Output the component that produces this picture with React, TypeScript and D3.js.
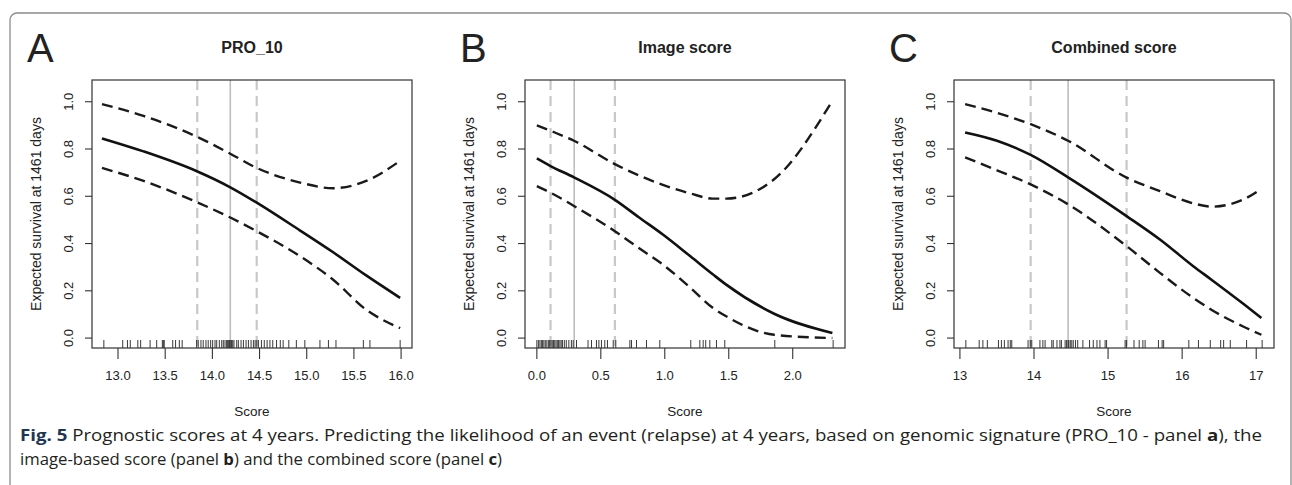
import React from 'react';
import * as d3 from 'd3';

// Panel A: PRO_10
const proGrid = [12.83, 13.27, 13.83, 14.19, 14.47, 14.93, 15.28, 15.63, 15.99];
const proFit = [0.845, 0.79, 0.707, 0.638, 0.573, 0.455, 0.363, 0.265, 0.17];
const proUpper = [0.99, 0.94, 0.853, 0.78, 0.72, 0.658, 0.634, 0.665, 0.75];
const proLower = [0.72, 0.665, 0.576, 0.51, 0.452, 0.346, 0.247, 0.12, 0.042];
const proCuts = [13.84, 14.19, 14.47];
const proRug = [12.85, 13.05, 13.10, 13.13, 13.21, 13.24, 13.34, 13.41, 13.47, 13.48, 13.49, 13.58, 13.61, 13.65, 13.68,
  13.833, 13.85, 13.879, 13.903, 13.932, 13.956, 13.982, 14.003, 14.028, 14.046, 14.074, 14.099, 14.116, 14.134,
  14.152, 14.158, 14.169, 14.18, 14.187, 14.198, 14.205, 14.216, 14.229, 14.258, 14.275, 14.304, 14.329, 14.357,
  14.382, 14.41, 14.435, 14.453, 14.471, 14.488, 14.52, 14.55, 14.58, 14.61, 14.64, 14.68, 14.72, 14.75, 14.81,
  14.89, 14.98, 15.14, 15.23, 15.31, 15.60, 15.67, 15.99];
const proTicks = [13.0, 13.5, 14.0, 14.5, 15.0, 15.5, 16.0];

// Panel B: Image score
const imgGrid = [0, 0.107, 0.29, 0.61, 0.8, 0.985, 1.2, 1.375, 1.48, 1.855, 2.31];
const imgFit = [0.76, 0.728, 0.68, 0.585, 0.51, 0.438, 0.346, 0.27, 0.226, 0.103, 0.021];
const imgUpper = [0.9, 0.877, 0.835, 0.736, 0.688, 0.648, 0.612, 0.59, 0.59, 0.672, 1.004];
const imgLower = [0.643, 0.615, 0.559, 0.452, 0.38, 0.311, 0.213, 0.128, 0.092, 0.014, 0.0];
const imgCuts = [0.107, 0.292, 0.61];
const imgRug = [0.0, 0.012, 0.024, 0.035, 0.045, 0.055, 0.066, 0.078, 0.09, 0.1, 0.11, 0.12, 0.13, 0.14, 0.15,
  0.16, 0.17, 0.18, 0.19, 0.2, 0.215, 0.23, 0.25, 0.27, 0.284, 0.31, 0.40, 0.427, 0.466, 0.485, 0.505, 0.531,
  0.552, 0.597, 0.617, 0.727, 0.74, 0.779, 0.857, 0.961, 1.203, 1.274, 1.30, 1.32, 1.352, 1.404, 1.469, 1.86, 2.316];
const imgTicks = [0.0, 0.5, 1.0, 1.5, 2.0];

// Panel C: Combined score
const comGrid = [13.07, 13.5, 13.955, 14.46, 15.25, 15.7, 16.15, 16.4, 16.83, 17.07];
const comFit = [0.87, 0.835, 0.775, 0.68, 0.516, 0.417, 0.304, 0.246, 0.144, 0.085];
const comUpper = [0.99, 0.953, 0.905, 0.835, 0.679, 0.622, 0.57, 0.556, 0.587, 0.632];
const comLower = [0.765, 0.71, 0.65, 0.566, 0.389, 0.276, 0.17, 0.119, 0.048, 0.014];
const comCuts = [13.955, 14.46, 15.25];
const comRug = [13.08, 13.26, 13.31, 13.37, 13.52, 13.56, 13.60, 13.65, 13.68, 13.70, 13.92, 13.95, 13.97, 14.08,
  14.12, 14.15, 14.24, 14.26, 14.31, 14.35, 14.37, 14.42, 14.44, 14.46, 14.47, 14.49, 14.51, 14.53, 14.56, 14.59,
  14.66, 14.75, 14.80, 14.85, 14.89, 14.96, 14.98, 15.23, 15.25, 15.35, 15.42, 15.47, 15.50, 15.68, 15.73, 15.75,
  16.09, 16.22, 16.38, 16.52, 16.56, 16.65, 16.87, 17.08];
const comTicks = [13, 14, 15, 16, 17];

const yTicks = [0.0, 0.2, 0.4, 0.6, 0.8, 1.0];
const yLim = [0, 1.05];

const panels = [
  { letter: 'A', title: 'PRO_10', left: 92, grid: proGrid, fit: proFit, upper: proUpper, lower: proLower, cuts: proCuts, rug: proRug, ticks: proTicks, fmt: '.1f' },
  { letter: 'B', title: 'Image score', left: 525, grid: imgGrid, fit: imgFit, upper: imgUpper, lower: imgLower, cuts: imgCuts, rug: imgRug, ticks: imgTicks, fmt: '.1f' },
  { letter: 'C', title: 'Combined score', left: 954, grid: comGrid, fit: comFit, upper: comUpper, lower: comLower, cuts: comCuts, rug: comRug, ticks: comTicks, fmt: 'd' },
];

const W = 1292;
const H = 485;
const boxW = 320;
const top = 80;
const bottom = 348;
const font = '"Liberation Sans", Arial, Helvetica, sans-serif';
const ink = '#222';

function Panel({ p }) {
  const [lo, hi] = d3.extent(p.rug);
  const pad = (hi - lo) * 0.04;
  const x = d3.scaleLinear().domain([lo - pad, hi + pad]).range([p.left, p.left + boxW]);
  const ypad = (yLim[1] - yLim[0]) * 0.04;
  const y = d3.scaleLinear().domain([yLim[0] - ypad, yLim[1] + ypad]).range([bottom, top]);
  const line = d3.line().x(d => x(d[0])).y(d => y(d[1])).curve(d3.curveMonotoneX);
  const pts = arr => p.grid.map((g, i) => [g, arr[i]]);
  const fmt = d3.format(p.fmt);
  const cx = p.left + boxW / 2;

  return (
    <g>
      <text x={p.left - 65} y={62} fontFamily={font} fontSize={40} fill={ink}>{p.letter}</text>
      <text x={cx} y={53} fontFamily={font} fontSize={16} fontWeight="bold" fill={ink} textAnchor="middle">{p.title}</text>

      {p.cuts.map((c, i) => (
        <line key={'c' + i} x1={x(c)} x2={x(c)} y1={top} y2={bottom}
          stroke={i === 1 ? '#bdbdbd' : '#c8c8c8'} strokeWidth={i === 1 ? 1.6 : 2.2}
          strokeDasharray={i === 1 ? null : '10 6'} />
      ))}

      <path d={line(pts(p.upper))} fill="none" stroke="#1a1a1a" strokeWidth={2.4} strokeDasharray="11 6" />
      <path d={line(pts(p.lower))} fill="none" stroke="#1a1a1a" strokeWidth={2.4} strokeDasharray="11 6" />
      <path d={line(pts(p.fit))} fill="none" stroke="#111" strokeWidth={2.6} />

      {p.rug.map((r, i) => (
        <line key={'r' + i} x1={x(r)} x2={x(r)} y1={bottom} y2={bottom - 8} stroke="#222" strokeWidth={0.9} />
      ))}

      <rect x={p.left} y={top} width={boxW} height={bottom - top} fill="none" stroke="#333" strokeWidth={1.2} />

      {p.ticks.map(t => (
        <g key={'x' + t}>
          <line x1={x(t)} x2={x(t)} y1={bottom} y2={bottom + 11} stroke="#333" strokeWidth={1.1} />
          <text x={x(t)} y={380} fontFamily={font} fontSize={13} fill={ink} textAnchor="middle">{fmt(t)}</text>
        </g>
      ))}
      {yTicks.map(t => (
        <g key={'y' + t}>
          <line x1={p.left} x2={p.left - 7} y1={y(t)} y2={y(t)} stroke="#333" strokeWidth={1.1} />
          <text transform={`translate(${p.left - 19},${y(t)}) rotate(-90)`} fontFamily={font} fontSize={13}
            fill={ink} textAnchor="middle">{d3.format('.1f')(t)}</text>
        </g>
      ))}

      <text transform={`translate(${p.left - 51},${(top + bottom) / 2}) rotate(-90)`} fontFamily={font}
        fontSize={14} fill={ink} textAnchor="middle">Expected survival at 1461 days</text>
      <text x={cx} y={416} fontFamily={font} fontSize={13.5} fill={ink} textAnchor="middle">Score</text>
    </g>
  );
}

export default function App() {
  const cap = '"Open Sans", "Noto Sans", sans-serif';
  return (
    <svg width={W} height={H} style={{ position: 'absolute', left: 0, top: 0, background: '#fff' }}>
      <rect x={0} y={0} width={W} height={H} fill="#fff" />
      <rect x={10} y={13} width={1281} height={520} rx={7} fill="none" stroke="#8c8c8c" strokeWidth={1.3} />
      {panels.map(p => <Panel key={p.letter} p={p} />)}
      <text x={20} y={441} fontFamily={cap} fontSize={16.5} fill="#231f20" textLength={1242} lengthAdjust="spacingAndGlyphs">
        <tspan fontWeight="bold" fill="#1f3550">Fig. 5</tspan>
        <tspan> Prognostic scores at 4 years. Predicting the likelihood of an event (relapse) at 4 years, based on genomic signature (PRO_10 - panel </tspan>
        <tspan fontWeight="bold">a</tspan>
        <tspan>), the</tspan>
      </text>
      <text x={20} y={465} fontFamily={cap} fontSize={16.5} fill="#231f20" textLength={482} lengthAdjust="spacingAndGlyphs">
        <tspan>image-based score (panel </tspan>
        <tspan fontWeight="bold">b</tspan>
        <tspan>) and the combined score (panel </tspan>
        <tspan fontWeight="bold">c</tspan>
        <tspan>)</tspan>
      </text>
    </svg>
  );
}
